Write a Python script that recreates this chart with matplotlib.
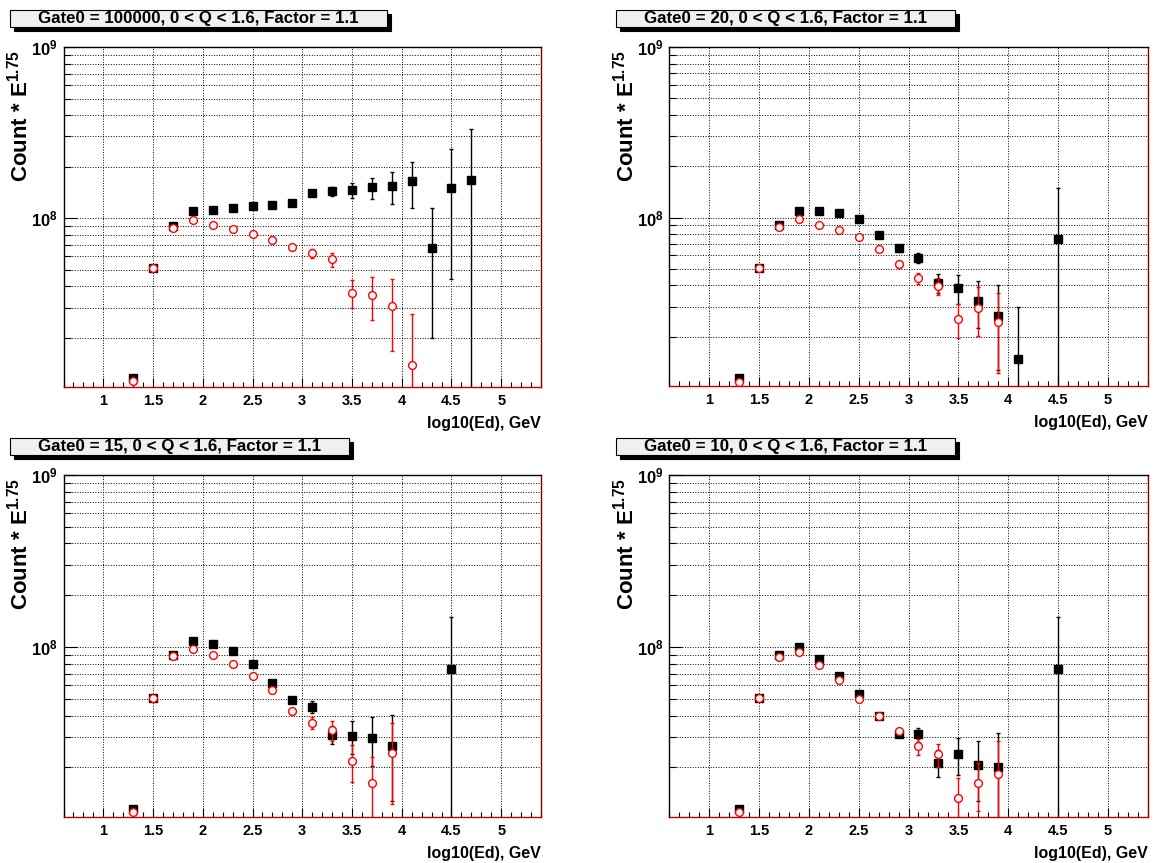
import matplotlib.pyplot as plt
import matplotlib.ticker as ticker
from matplotlib.patches import Rectangle
import numpy as np

plt.rcParams['font.family'] = ['Liberation Sans', 'DejaVu Sans']
plt.rcParams['font.weight'] = 'bold'
plt.rcParams['mathtext.fontset'] = 'custom'
plt.rcParams['mathtext.rm'] = 'Liberation Sans:bold'
plt.rcParams['mathtext.it'] = 'Liberation Sans:bold'
plt.rcParams['mathtext.bf'] = 'Liberation Sans:bold'

titles = ['Gate0 = 100000, 0 < Q < 1.6, Factor = 1.1',
          'Gate0 = 20, 0 < Q < 1.6, Factor = 1.1',
          'Gate0 = 15, 0 < Q < 1.6, Factor = 1.1',
          'Gate0 = 10, 0 < Q < 1.6, Factor = 1.1']

# Gate0 = 100000
x_b1 = [1.3, 1.5, 1.7, 1.9, 2.1, 2.3, 2.5, 2.7, 2.9, 3.1, 3.3, 3.5, 3.7, 3.9, 4.1, 4.3, 4.5, 4.7]
y_b1 = [1.16e7, 5.1e7, 9.0e7, 1.10e8, 1.12e8, 1.15e8, 1.18e8, 1.20e8, 1.23e8, 1.41e8, 1.44e8, 1.46e8,
        1.51e8, 1.53e8, 1.64e8, 6.7e7, 1.49e8, 1.67e8]
e_b1 = [3e5, 1e6, 1.5e6, 2e6, 2e6, 2.5e6, 3e6, 3.5e6, 4e6, 5e6, 8.5e6, 1.45e7,
        2.15e7, 3.2e7, 4.9e7, 4.7e7, 1.05e8, 1.63e8]
x_r1 = [1.3, 1.5, 1.7, 1.9, 2.1, 2.3, 2.5, 2.7, 2.9, 3.1, 3.3, 3.5, 3.7, 3.9, 4.1]
y_r1 = [1.12e7, 5.1e7, 8.8e7, 9.8e7, 9.16e7, 8.64e7, 8.07e7, 7.49e7, 6.78e7, 6.21e7, 5.75e7, 3.66e7,
        3.54e7, 3.05e7, 1.38e7]
e_r1 = [3e5, 1e6, 1.2e6, 1.5e6, 1.5e6, 1.7e6, 2e6, 2.3e6, 2.7e6, 4e6, 5.4e6, 6.6e6,
        9.9e6, 1.37e7, 1.37e7]

# Gate0 = 20
x_b2 = [1.3, 1.5, 1.7, 1.9, 2.1, 2.3, 2.5, 2.7, 2.9, 3.1, 3.3, 3.5, 3.7, 3.9, 4.1, 4.5]
y_b2 = [1.15e7, 5.06e7, 9.0e7, 1.10e8, 1.10e8, 1.06e8, 9.8e7, 7.91e7, 6.6e7, 5.82e7, 4.15e7, 3.88e7,
        3.26e7, 2.66e7, 1.49e7, 7.46e7]
e_b2 = [3e5, 1e6, 1.5e6, 2e6, 2e6, 2e6, 2.3e6, 2.5e6, 2.8e6, 4.2e6, 5.5e6, 7.5e6,
        1.0e7, 1.39e7, 1.51e7, 7.5e7]
x_r2 = [1.3, 1.5, 1.7, 1.9, 2.1, 2.3, 2.5, 2.7, 2.9, 3.1, 3.3, 3.5, 3.7, 3.9]
y_r2 = [1.09e7, 5.06e7, 8.77e7, 9.78e7, 9.1e7, 8.47e7, 7.67e7, 6.55e7, 5.32e7, 4.4e7, 3.99e7, 2.54e7,
        2.96e7, 2.43e7]
e_r2 = [3e5, 1e6, 1.2e6, 1.5e6, 1.6e6, 1.8e6, 2e6, 2.2e6, 2.5e6, 3.4e6, 4.5e6, 5.6e6,
        9.4e6, 1.2e7]

# Gate0 = 15
x_b3 = [1.3, 1.5, 1.7, 1.9, 2.1, 2.3, 2.5, 2.7, 2.9, 3.1, 3.3, 3.5, 3.7, 3.9, 4.5]
y_b3 = [1.14e7, 5.06e7, 8.98e7, 1.09e8, 1.04e8, 9.43e7, 7.95e7, 6.2e7, 4.95e7, 4.51e7, 3.09e7, 3.05e7,
        2.98e7, 2.66e7, 7.5e7]
e_b3 = [3e5, 1e6, 1.5e6, 2e6, 2e6, 2e6, 2.2e6, 2.3e6, 2e6, 3.5e6, 3.7e6, 6.6e6,
        9.5e6, 1.39e7, 7.5e7]
x_r3 = [1.3, 1.5, 1.7, 1.9, 2.1, 2.3, 2.5, 2.7, 2.9, 3.1, 3.3, 3.5, 3.7, 3.9]
y_r3 = [1.10e7, 5.06e7, 8.82e7, 9.78e7, 8.94e7, 8.02e7, 6.82e7, 5.62e7, 4.25e7, 3.63e7, 3.3e7, 2.17e7,
        1.62e7, 2.42e7]
e_r3 = [3e5, 1e6, 1.2e6, 1.5e6, 1.5e6, 1.6e6, 1.8e6, 2e6, 2e6, 2.9e6, 4.4e6, 5.3e6,
        6.7e6, 1.2e7]

# Gate0 = 10
x_b4 = [1.3, 1.5, 1.7, 1.9, 2.1, 2.3, 2.5, 2.7, 2.9, 3.1, 3.3, 3.5, 3.7, 3.9, 4.5]
y_b4 = [1.14e7, 5.06e7, 8.98e7, 1.0e8, 8.54e7, 6.82e7, 5.37e7, 3.97e7, 3.14e7, 3.11e7, 2.13e7, 2.39e7,
        2.07e7, 2.0e7, 7.46e7]
e_b4 = [3e5, 1e6, 1.5e6, 2e6, 1.8e6, 1.8e6, 1.8e6, 1.5e6, 1.5e6, 3e6, 3.8e6, 5.8e6,
        7.9e6, 1.16e7, 7.5e7]
x_r4 = [1.3, 1.5, 1.7, 1.9, 2.1, 2.3, 2.5, 2.7, 2.9, 3.1, 3.3, 3.5, 3.7, 3.9]
y_r4 = [1.10e7, 5.06e7, 8.78e7, 9.39e7, 7.91e7, 6.43e7, 4.97e7, 3.97e7, 3.24e7, 2.65e7, 2.38e7, 1.33e7,
        1.62e7, 1.82e7]
e_r4 = [3e5, 1e6, 1.2e6, 1.5e6, 1.5e6, 1.5e6, 1.5e6, 1.3e6, 1.5e6, 2.9e6, 3.7e6, 4.1e6,
        5e6, 1.04e7]

black_sets = [(x_b1, y_b1, e_b1), (x_b2, y_b2, e_b2), (x_b3, y_b3, e_b3), (x_b4, y_b4, e_b4)]
red_sets = [(x_r1, y_r1, e_r1), (x_r2, y_r2, e_r2), (x_r3, y_r3, e_r3), (x_r4, y_r4, e_r4)]

W, H = 1158, 863
fig = plt.figure(figsize=(W / 100, H / 100), dpi=100)

# panel frames in pixels: left, top, right, bottom
frames = [(63.5, 47, 541, 387), (669, 47, 1148, 386),
          (63.5, 475, 541, 817), (669, 475, 1148, 817)]

for i, (l, t, r, b) in enumerate(frames):
    ax = fig.add_axes([l / W, 1 - b / H, (r - l) / W, (b - t) / H])
    ax.set_yscale('log')
    ax.set_xlim(0.6, 5.4)
    ax.set_ylim(1.03e7, 1e9)

    xb, yb, eb = black_sets[i]
    xr, yr, er = red_sets[i]
    ax.errorbar(xb, yb, yerr=eb, fmt='s', color='black', ms=5.4, elinewidth=1,
                capsize=1.5, capthick=1, zorder=3)
    ax.errorbar(xr, yr, yerr=er, fmt='o', color='red', mfc='white', mec='red', ms=5.6,
                mew=1.0, elinewidth=1, capsize=1.5, capthick=1, zorder=4)

    ax.xaxis.set_major_locator(ticker.MultipleLocator(0.5))
    ax.xaxis.set_minor_locator(ticker.MultipleLocator(0.1))
    ax.xaxis.set_major_formatter(ticker.FuncFormatter(lambda v, p: f'{v:g}'))
    ax.yaxis.set_major_locator(ticker.LogLocator(base=10, subs=(1.0,)))
    ax.yaxis.set_minor_locator(ticker.LogLocator(base=10, subs=np.arange(2, 10)))
    ax.yaxis.set_major_formatter(ticker.FuncFormatter(
        lambda v, p: r'$\mathbf{10^{%d}}$' % int(round(np.log10(v)))))
    ax.yaxis.set_minor_formatter(ticker.NullFormatter())

    ax.tick_params(which='both', direction='in', top=False, right=False, width=0.8)
    ax.tick_params(axis='x', which='major', length=6.5, labelsize=10.5, pad=5)
    ax.tick_params(axis='x', which='minor', length=3.3)
    ax.tick_params(axis='y', which='major', length=9, labelsize=12, pad=4)
    ax.tick_params(axis='y', which='minor', length=5)

    ax.grid(axis='x', which='major', ls=':', color='black', lw=0.7)
    ax.grid(axis='y', which='both', ls=':', color='black', lw=0.7)

    for s in ax.spines.values():
        s.set_linewidth(1)
    ax.spines['bottom'].set_color('#c00000')
    ax.spines['right'].set_color('#800000')

    ax.set_xlabel('log10(Ed), GeV', fontsize=11.5, fontweight='bold', loc='right')
    ax.xaxis.label.set_va('center')
    ax.xaxis.set_label_coords(1.0, -36 / (b - t))
    ax.set_ylabel('Count * E$^{1.75}$', fontsize=16, fontweight='bold', loc='top')
    ax.yaxis.label.set_va('center')
    ax.yaxis.set_label_coords(-(l - (20 if l < 100 else 626)) / (r - l), 1 - 3 / (b - t))

    # title box with shadow
    x0 = l - 53.5
    y0 = t - 37
    txt = fig.text(0, 0, titles[i], fontsize=12.2, fontweight='bold', ha='center', va='center')
    fig.canvas.draw()
    tw = txt.get_window_extent(fig.canvas.get_renderer()).width
    bw = tw + 56
    bh = 17.5
    fig.patches.append(Rectangle(((x0 + 4) / W, 1 - (y0 + bh + 4) / H), bw / W, bh / H,
                                 transform=fig.transFigure, facecolor='black',
                                 edgecolor='black', lw=0.8, zorder=1))
    fig.patches.append(Rectangle((x0 / W, 1 - (y0 + bh) / H), bw / W, bh / H,
                                 transform=fig.transFigure, facecolor='#f0f0f0',
                                 edgecolor='black', lw=0.8, zorder=2))
    txt.set_position(((x0 + bw / 2) / W, 1 - (y0 + bh / 2) / H))
    txt.set_zorder(3)

fig.savefig('out.png', dpi=100)
